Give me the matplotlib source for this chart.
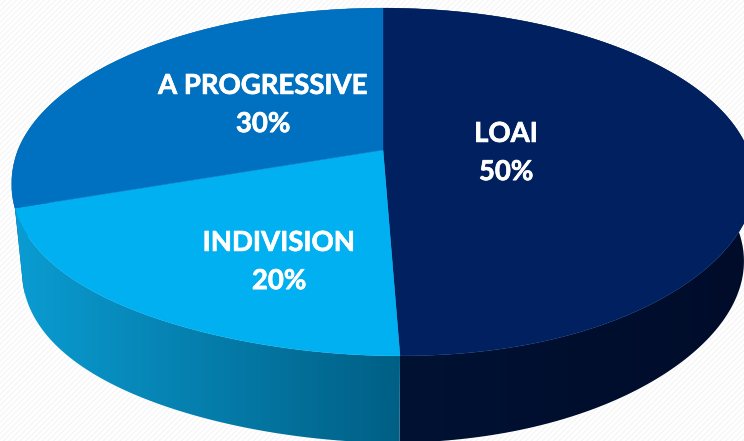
import numpy as np
import matplotlib
matplotlib.use('Agg')
import matplotlib.pyplot as plt
import matplotlib.patheffects as pe
from matplotlib.colors import LinearSegmentedColormap
from matplotlib.patches import Polygon, Rectangle

labels = ['LOAI', 'INDIVISION', 'A PROGRESSIVE']
shares = [50, 20, 30]
top_colors = ['#002060', '#00b0f0', '#0070c0']
side_stops = [['#001233', '#000c2a'], ['#0a9cd2', '#005f85'], ['#0058a0', '#0058a0']]
label_pos = [(506, 153), (279, 262), (263, 105)]

W, H = 744, 441
cx, cy = 383, 150
a, b, k = 365, 168, 0.184
rim_scale = 0.972
front_shift = 17
left_sag = 12
# how far the bottom rim of each wall runs on past its slice, in radians
rim_extra = [0, np.radians(4), 0]


def project(theta, rim=False):
	# theta runs clockwise from twelve o'clock, tilted disc seen in perspective
	u, v = np.sin(theta), np.cos(theta)
	w = 1 + k*v
	x = a*u/w + front_shift*np.clip(-v, 0, 1)**6
	y = cy - b*v/w + left_sag*np.clip(-u, 0, 1)**4*np.clip(-v, 0, 1)
	if rim:
		x = x*rim_scale
		y = y + 87 - 8*np.clip(u, 0, 1)
	return cx + x, y


fig = plt.figure(figsize=(W/100, H/100), dpi=100)
ax = fig.add_axes([0, 0, 1, 1])
ax.set_axis_off()

ax.add_patch(Rectangle((0, 0), W, H, facecolor='white', edgecolor='#f6f6f6', hatch='//////', linewidth=0, zorder=0))

edges = np.cumsum([0] + shares)/sum(shares)*2*np.pi

# walls first, the back slice goes lowest so the front ones cover it
for z, i in enumerate([2, 0, 1]):
	xt, yt = project(np.linspace(edges[i], edges[i+1], 200))
	xb, yb = project(np.linspace(edges[i], edges[i+1] + rim_extra[i], 200), rim=True)
	wall = Polygon(np.r_[np.c_[xt, yt], np.c_[xb, yb][::-1]], closed=True, facecolor='none', edgecolor='none', zorder=z+1)
	ax.add_patch(wall)
	cmap = LinearSegmentedColormap.from_list('wall%d' % i, side_stops[i])
	x0, x1 = min(xt.min(), xb.min()), max(xt.max(), xb.max())
	grad = np.linspace(0, 1, 256).reshape(1, -1)
	im = ax.imshow(grad, cmap=cmap, extent=(x0, x1, H+5, 0), aspect='auto', zorder=z+1)
	im.set_clip_path(wall)

# thin strip of the back wall showing at the far left edge
th = edges[2] + np.radians([0, 11, 10, 4])
sx, sy = project(th)
rx, ry = project(th, rim=True)
strip = np.c_[np.r_[sx[:2], rx[2:]], np.r_[sy[:2], ry[2:]]]
ax.add_patch(Polygon(strip, closed=True, facecolor=side_stops[2][0], edgecolor='none', zorder=1))

for i in range(3):
	t = np.linspace(edges[i], edges[i+1], 300)
	xt, yt = project(t)
	pts = np.r_[[[cx, cy]], np.c_[xt, yt]]
	ax.add_patch(Polygon(pts, closed=True, facecolor=top_colors[i], edgecolor=top_colors[i], linewidth=0.3, zorder=5))

for name, val, (x, y) in zip(labels, shares, label_pos):
	txt = ax.text(x, y, '%s\n%d%%' % (name, val), ha='center', va='center', color='white',
		family='Lato', fontweight='bold', fontsize=19.8, linespacing=1.58, zorder=6)
	txt.set_path_effects([pe.withStroke(linewidth=0.5, foreground='white')])

ax.set_xlim(0, W)
ax.set_ylim(H, 0)
fig.savefig('out.png', dpi=100)
